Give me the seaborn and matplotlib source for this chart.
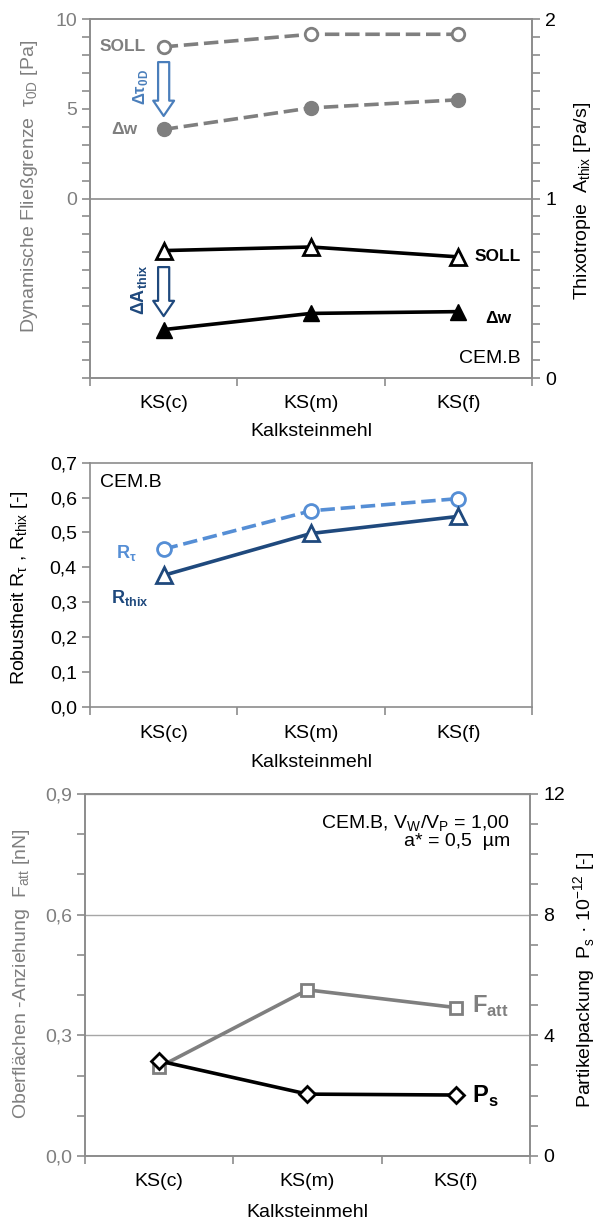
import numpy as np
import pandas as pd
import seaborn as sns
import matplotlib.pyplot as plt

# categories
cats = ["KS(c)", "KS(m)", "KS(f)"]

# top panel: yield stress (left) and thixotropy (right)
tau_soll = [8.45, 9.15, 9.15]
tau_dw = [3.85, 5.05, 5.5]
athix_soll = [0.71, 0.73, 0.675]
athix_dw = [0.27, 0.36, 0.37]

# middle panel: robustness
r_tau = [0.452, 0.562, 0.597]
r_thix = [0.377, 0.497, 0.546]
r_ticklabels = ["0,0", "0,1", "0,2", "0,3", "0,4", "0,5", "0,6", "0,7"]

# bottom panel: attraction (left) and packing (right)
f_att = [0.221, 0.413, 0.369]
p_s = [3.15, 2.05, 2.02]
f_ticklabels = ["0,0", "0,3", "0,6", "0,9"]

sns.set_theme(style="white")
plt.rcParams["font.family"] = ["Liberation Sans", "DejaVu Sans"]
plt.rcParams["font.size"] = 14
plt.rcParams["text.color"] = "black"
plt.rcParams["axes.labelcolor"] = "black"
plt.rcParams["mathtext.fontset"] = "custom"
plt.rcParams["mathtext.rm"] = "Liberation Sans"
plt.rcParams["mathtext.bf"] = "Liberation Sans:bold"

GRAY = "#7f7f7f"
SPINE = "#8c8c8c"
LBLUE = "#558ed5"
DBLUE = "#1f497d"
FS = 14

df1 = pd.DataFrame({"cat": cats, "tau_soll": tau_soll, "tau_dw": tau_dw,
                    "a_soll": athix_soll, "a_dw": athix_dw})
df2 = pd.DataFrame({"cat": cats, "r_tau": r_tau, "r_thix": r_thix})
df3 = pd.DataFrame({"cat": cats, "f_att": f_att, "p_s": p_s})

fig = plt.figure(figsize=(5.98, 12.27), dpi=100)


def frame(ax):
    for s in ax.spines.values():
        s.set_color(SPINE)
        s.set_linewidth(1.2)
        s.set_visible(True)


def xcat(ax, pad, labelpad):
    ax.set_xlim(-0.5, 2.5)
    ax.set_xticks([0, 1, 2])
    ax.set_xticklabels(cats)
    ax.set_xticks([-0.5, 0.5, 1.5, 2.5], minor=True)
    ax.tick_params(axis="x", which="major", length=0, pad=pad, labelsize=FS, labelcolor="black")
    ax.tick_params(axis="x", which="minor", bottom=True, length=6, width=1.2, color=SPINE, direction="out")
    ax.set_xlabel("Kalksteinmehl", fontsize=FS, labelpad=labelpad, color="black")


# ---------------- top panel ----------------
ax1 = fig.add_axes([0.1505, 0.6919, 0.739, 0.2926])
ax1r = ax1.twinx()

sns.lineplot(data=df1, x="cat", y="tau_soll", ax=ax1, sort=False, color=GRAY, lw=2.6,
             linestyle=(0, (4, 1.6)), marker="o", markersize=9, markerfacecolor="white",
             markeredgecolor=GRAY, markeredgewidth=2)
sns.lineplot(data=df1, x="cat", y="tau_dw", ax=ax1, sort=False, color=GRAY, lw=2.6,
             linestyle=(0, (4, 1.6)), marker="o", markersize=10, markerfacecolor=GRAY,
             markeredgecolor=GRAY, markeredgewidth=1)
sns.lineplot(data=df1, x="cat", y="a_soll", ax=ax1r, sort=False, color="black", lw=2.6,
             marker="^", markersize=11, markerfacecolor="white",
             markeredgecolor="black", markeredgewidth=2)
sns.lineplot(data=df1, x="cat", y="a_dw", ax=ax1r, sort=False, color="black", lw=2.6,
             marker="^", markersize=11, markerfacecolor="black",
             markeredgecolor="black", markeredgewidth=1)

ax1.axhline(0, color=SPINE, lw=1.2, zorder=0)
ax1.set_ylim(-10, 10)
ax1.set_yticks([0, 5, 10])
ax1.set_yticks(np.arange(-10, 10.5, 1), minor=True)
ax1.tick_params(axis="y", which="both", left=True, length=6, width=1.2, color=SPINE,
                direction="out", labelsize=FS, labelcolor=GRAY)
ax1r.set_ylim(0, 2)
ax1r.set_yticks([0, 1, 2])
ax1r.set_yticks(np.arange(0, 2.05, 0.1), minor=True)
ax1r.tick_params(axis="y", which="both", right=True, length=6, width=1.2, color=SPINE,
                 direction="out", labelsize=FS, labelcolor="black")
xcat(ax1, 12, 8)
frame(ax1)
frame(ax1r)
ax1.set_ylabel(r"Dynamische Fließgrenze  τ$_\mathregular{0D}$ [Pa]", color=GRAY, fontsize=FS)
ax1.yaxis.set_label_coords(-0.113, 0.535)
ax1r.set_ylabel(r"Thixotropie  A$_\mathregular{thix}$ [Pa/s]", color="black", fontsize=FS)
ax1r.yaxis.set_label_coords(1.09, 0.493)

ax1.text(-0.12, 8.45, "SOLL", color=GRAY, fontweight="bold", fontsize=12.5, ha="right", va="center")
ax1.text(-0.18, 3.85, "Δw", color=GRAY, fontweight="bold", fontsize=12.5, ha="right", va="center")
ax1.annotate("", xy=(0, 4.6), xytext=(0, 7.6),
             arrowprops=dict(arrowstyle="simple,head_length=1.1,head_width=1.5,tail_width=0.8",
                             mutation_scale=10, fc="white", ec="#4a7ebb", lw=1.6,
                             shrinkA=0, shrinkB=0))
ax1.text(-0.16, 6.2, r"Δτ$_\mathregular{0D}$", color="#4a7ebb", fontweight="bold", fontsize=12,
         rotation=90, ha="center", va="center")
ax1r.annotate("", xy=(0, 0.345), xytext=(0, 0.618),
              arrowprops=dict(arrowstyle="simple,head_length=1.1,head_width=1.5,tail_width=0.8",
                              mutation_scale=10, fc="white", ec=DBLUE, lw=1.6,
                              shrinkA=0, shrinkB=0))
ax1r.text(-0.17, 0.49, r"ΔA$_\mathregular{thix}$", color=DBLUE, fontweight="bold", fontsize=13,
          rotation=90, ha="center", va="center")
ax1r.text(2.11, 0.675, "SOLL", color="black", fontweight="bold", fontsize=12.5, ha="left", va="center")
ax1r.text(2.18, 0.33, "Δw", color="black", fontweight="bold", fontsize=12.5, ha="left", va="center")
ax1r.text(2.42, 0.11, "CEM.B", color="black", fontsize=FS, ha="right", va="center")

# ---------------- middle panel ----------------
ax2 = fig.add_axes([0.1505, 0.424, 0.739, 0.1989])
sns.lineplot(data=df2, x="cat", y="r_tau", ax=ax2, sort=False, color=LBLUE, lw=2.6,
             linestyle=(0, (4, 1.6)), marker="o", markersize=10, markerfacecolor="white",
             markeredgecolor=LBLUE, markeredgewidth=2)
sns.lineplot(data=df2, x="cat", y="r_thix", ax=ax2, sort=False, color=DBLUE, lw=2.6,
             marker="^", markersize=11, markerfacecolor="white",
             markeredgecolor=DBLUE, markeredgewidth=2)
ax2.set_ylim(0, 0.7)
ax2.set_yticks(np.arange(0, 0.75, 0.1))
ax2.set_yticklabels(r_ticklabels)
ax2.tick_params(axis="y", which="major", left=True, length=6, width=1.2, color=SPINE,
                direction="out", labelsize=FS, labelcolor="black")
xcat(ax2, 13, 9)
frame(ax2)
ax2.set_ylabel(r"Robustheit R$_\mathregular{τ}$ , R$_\mathregular{thix}$ [-]", fontsize=FS, color="black")
ax2.yaxis.set_label_coords(-0.136, 0.486)
ax2.text(-0.43, 0.642, "CEM.B", fontsize=FS, ha="left", va="center", color="black")
ax2.text(-0.18, 0.44, r"R$_\mathregular{τ}$", color=LBLUE, fontweight="bold", fontsize=13,
         ha="right", va="center")
ax2.text(-0.10, 0.311, r"R$_\mathregular{thix}$", color=DBLUE, fontweight="bold", fontsize=13,
         ha="right", va="center")

# ---------------- bottom panel ----------------
ax3 = fig.add_axes([0.1421, 0.0579, 0.744, 0.295])
ax3r = ax3.twinx()
sns.lineplot(data=df3, x="cat", y="f_att", ax=ax3, sort=False, color=GRAY, lw=2.6,
             marker="s", markersize=9, markerfacecolor="white",
             markeredgecolor=GRAY, markeredgewidth=2)
sns.lineplot(data=df3, x="cat", y="p_s", ax=ax3r, sort=False, color="black", lw=2.6,
             marker="D", markersize=8.5, markerfacecolor="white",
             markeredgecolor="black", markeredgewidth=2)
ax3.set_ylim(0, 0.9)
ax3.set_yticks([0, 0.3, 0.6, 0.9])
ax3.set_yticklabels(f_ticklabels)
ax3.set_yticks(np.arange(0, 0.95, 0.1), minor=True)
ax3.yaxis.grid(True, which="major", color="#a6a6a6", lw=1)
ax3.set_axisbelow(True)
ax3.tick_params(axis="y", which="both", left=True, length=6, width=1.2, color=SPINE,
                direction="out", labelsize=FS, labelcolor=GRAY)
ax3r.set_ylim(0, 12)
ax3r.set_yticks([0, 4, 8, 12])
ax3r.set_yticks(np.arange(0, 12.5, 1), minor=True)
ax3r.tick_params(axis="y", which="both", right=True, length=6, width=1.2, color=SPINE,
                 direction="out", labelsize=FS, labelcolor="black")
xcat(ax3, 12, 10)
frame(ax3)
frame(ax3r)
ax3.set_ylabel(r"Oberflächen -Anziehung  F$_\mathregular{att}$ [nN]", color=GRAY, fontsize=FS)
ax3.yaxis.set_label_coords(-0.119, 0.504)
ax3r.set_ylabel(r"Partikelpackung  P$_\mathregular{s}$ · 10$^\mathregular{-12}$ [-]", fontsize=FS,
                color="black")
ax3r.yaxis.set_label_coords(1.094, 0.486)
ax3.text(2.107, 0.371, r"F$_\mathregular{att}$", color=GRAY, fontweight="bold", fontsize=17,
         ha="left", va="center")
ax3r.text(2.11, 1.97, r"P$_\mathregular{s}$", color="black", fontweight="bold", fontsize=17,
          ha="left", va="center")
ax3.text(0.955, 0.917, r"CEM.B, V$_\mathregular{W}$/V$_\mathregular{P}$ = 1,00",
         transform=ax3.transAxes, fontsize=FS, ha="right", va="center", color="black")
ax3.text(0.955, 0.868, "a* = 0,5  µm", transform=ax3.transAxes, fontsize=FS,
         ha="right", va="center", color="black")

fig.savefig("out.png", dpi=100)
